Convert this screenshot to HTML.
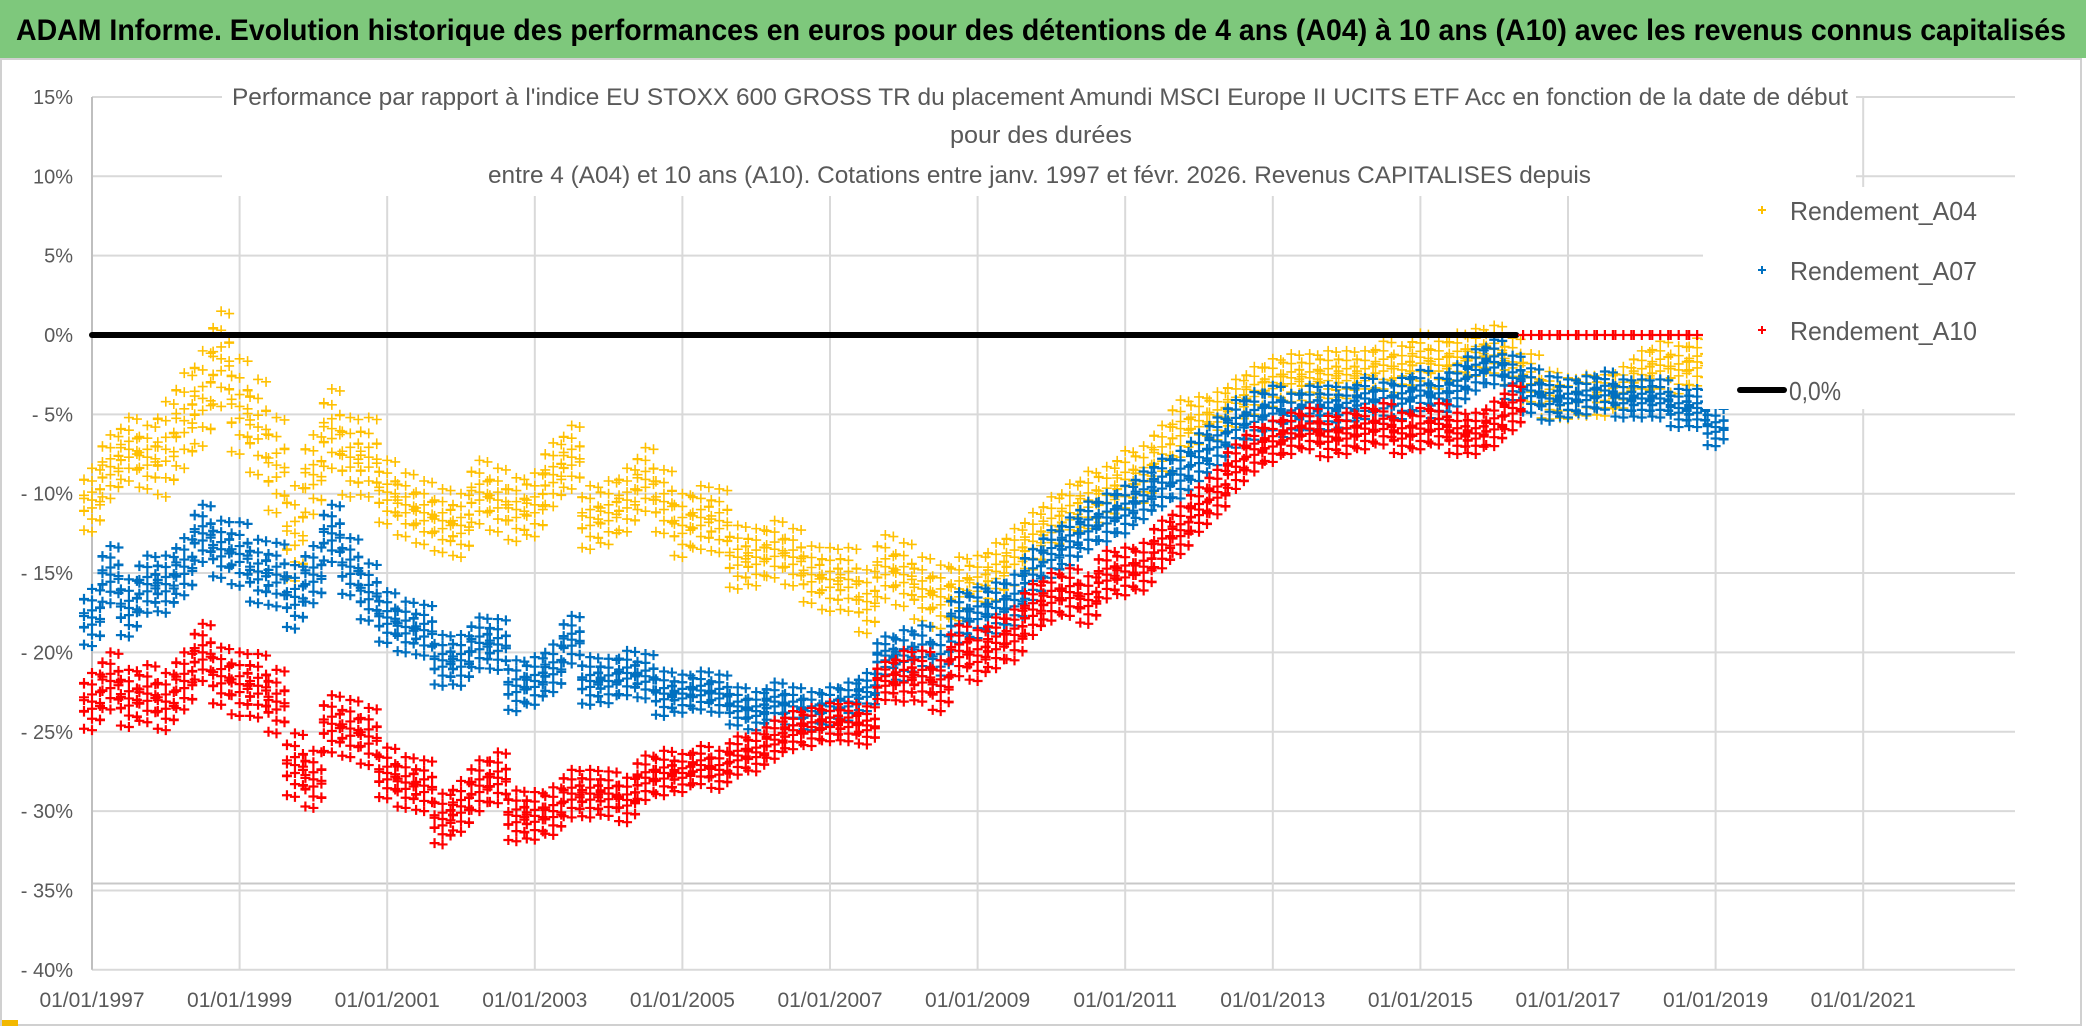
<!DOCTYPE html>
<html><head><meta charset="utf-8"><style>
html,body{margin:0;padding:0;background:#fff;}
svg{display:block;font-family:"Liberation Sans",sans-serif;}
</style></head><body>
<svg id="chart" width="2086" height="1031" viewBox="0 0 2086 1031" xmlns="http://www.w3.org/2000/svg">
<rect x="0" y="0" width="2086" height="1031" fill="#fff"/>
<rect x="0" y="0" width="2086" height="58" fill="#7ec87c"/>
<text x="16" y="40" font-size="30" font-weight="bold" fill="#000" textLength="2050" lengthAdjust="spacingAndGlyphs">ADAM Informe. Evolution historique des performances en euros pour des détentions de 4 ans (A04) à 10 ans (A10) avec les revenus connus capitalisés</text>
<rect x="1" y="59" width="2080" height="966" fill="none" stroke="#d0d0d0" stroke-width="2"/>
<rect x="2" y="1020" width="16" height="6" fill="#f2b800"/>
<g id="grid"></g>
<g id="series"></g>
<g id="overlay"></g>
</svg>
<script>
const years=["01/01/1997","01/01/1999","01/01/2001","01/01/2003","01/01/2005","01/01/2007","01/01/2009","01/01/2011","01/01/2013","01/01/2015","01/01/2017","01/01/2019","01/01/2021"];
const yTicks=[15,10,5,0,-5,-10,-15,-20,-25,-30,-35,-40];
const yTickLabels=["15%","10%","5%","0%","- 5%","- 10%","- 15%","- 20%","- 25%","- 30%","- 35%","- 40%"];
const seriesNames=["Rendement_A04","Rendement_A07","Rendement_A10"];
const startYear=1997;
const step=0.25;
const a04=[-10.4,-8.3,-7.2,-7.7, -7.2,-5.4,-4,-1.5, -4.5,-5.8,-8.2,-12.5, -8.8,-5.9,-7.7,-7.7, -9.9,-10.7,-11.2,-11.7, -12,-9.9,-10.4,-11, -10.7,-8.8,-7.7,-11.5, -11.2,-10.4,-9.1,-10.5, -12,-11.5,-11.7,-14, -14,-13.5,-14,-15.1, -15.4,-15.4,-16.8,-14.6, -15.1,-16,-16.5,-16, -15.7,-14.9,-14,-13, -12,-11.2,-10.4,-10.1, -9.1,-8.8,-7.5,-5.9, -5.4,-5.1,-4.3,-3.5, -3,-2.7,-2.7,-2.5, -2.5,-2.5,-1.9,-2.2, -1.4,-1.9,-1.4,-1.1, -0.9,-1.7,-2.7,-3.8, -4,-3.8,-3.8,-3.3, -2.5,-1.9,-2.2,-1.7];
const a07=[-17.8,-15.1,-17.2,-15.7, -15.7,-14.6,-12.5,-13.5, -13.8,-14.9,-15.1,-16.5, -15.1,-12.5,-14.6,-16.2, -17.8,-18.4,-18.6,-20.5, -20.5,-19.4,-19.5,-22.1, -21.8,-21,-19.2,-21.8, -21.8,-21.3,-21.5,-22.6, -22.6,-22.4,-22.6,-23.4, -23.7,-23.1,-23.4,-23.7, -23.4,-23.1,-22.5,-20.2, -20.2,-19.9,-20.5,-17.8, -17.5,-17.2,-16.7,-15.1, -13.8,-13,-12,-11.5, -11,-10.1,-9.3,-8.8, -7.7,-6.7,-5.6,-5.1, -4.6,-5.1,-4.6,-4.6, -4.6,-4,-4.3,-4, -3.5,-4,-3.2,-2.2, -1.7,-2.7,-3.5,-4, -4,-3.8,-3.5,-4, -4,-4,-4.6,-4.6, -5.8];
const a10=[-23.1,-21.8,-22.9,-22.6, -23.1,-21.8,-20,-21.5, -22,-22.1,-23.1,-27.1, -28,-24.5,-24.8,-25.3, -27.6,-28.2,-28.4,-30.5, -29.7,-28.4,-27.9,-30.3, -30.3,-30,-28.9,-28.9, -28.9,-29.3,-27.9,-27.6, -27.6,-27.1,-27.4,-26.5, -26.3,-25.5,-24.9,-24.7, -24.4,-24.4,-24.6,-21.8, -21.5,-21.5,-22.1,-19.9, -20.2,-19.4,-18.9,-17.3, -16.5,-16.2,-16.7,-15.1, -14.9,-14.6,-13.2,-12.3, -11,-9.9,-8.3,-7.2, -6.7,-6.2,-5.9,-6.4, -6.2,-5.9,-5.6,-6.2, -5.9,-5.6,-6.2,-6.2, -5.6,-4.6,0,0, 0,0,0,0, 0,0,0,0];
const spread04=[2,3,3,2.5,2,2,2,2,2,1.8,2,2,1.8,1.8,1.8,1.5,1.5,1.5,1.5,1.5,1.3,1.5];
const spread07=[1.8,1.8,2,1.8,1.6,1.6,1.5,1.4,1.2,1.2,1.2,1.6,1.6,1.5,1.5,1.5,1.4,1.3,1.3,1.4,1.2,1.2,1.2];
const spread10=[1.8,1.8,2,1.8,1.6,1.6,1.5,1.4,1.2,1.2,1.2,1.6,1.6,1.5,1.5,1.4,1.3,1.3,1.3,1.4,0,0];
const zeroLine=[1997,2016.3];
const NS="http://www.w3.org/2000/svg";
const X0=92,XR=2015,PX_PER_YEAR=73.8,Y0=335,PX_PER_PCT=15.87;
const xS=yr=>X0+(yr-1997)*PX_PER_YEAR;
const yS=v=>Y0-v*PX_PER_PCT;
function mk(tag,attrs,parent){const e=document.createElementNS(NS,tag);for(const k in attrs)e.setAttribute(k,attrs[k]);parent.appendChild(e);return e;}
const grid=document.getElementById('grid'),ser=document.getElementById('series'),ov=document.getElementById('overlay');
yTicks.forEach((v,i)=>{
  const l=mk('line',{x1:X0,x2:XR,y1:yS(v),y2:yS(v),stroke:'#d9d9d9','stroke-width':2},grid);
  
  
  const t=mk('text',{x:73,y:yS(v)+7,'text-anchor':'end','font-size':20,fill:'#595959'},grid);
  t.textContent=yTickLabels[i];
  
  
});
mk('line',{x1:X0,x2:XR,y1:yS(-35)-7,y2:yS(-35)-7,stroke:'#c8c8c8','stroke-width':2},grid);
years.forEach((s,i)=>{
  const x=xS(1997+2*i);
  const l=mk('line',{x1:x,x2:x,y1:97,y2:yS(-40),stroke:i===0?'#bfbfbf':'#d9d9d9','stroke-width':2},grid);
  
  
  const t=mk('text',{x:x,y:1007,'text-anchor':'middle','font-size':21,fill:'#595959'},grid);
  t.textContent=s;
  
  
});
const colors=["#FFC000","#0070C0","#FF0000"];
const dataSets=[a04,a07,a10];
const spreads=[spread04,spread07,spread10];
const ks=[-1,-0.6,-0.25,0,0.25,0.6,1];
const dxs=[-8,0,8];
const groups=[];
dataSets.forEach((arr,si)=>{
  const g=mk('g',{stroke:colors[si],'stroke-width':si===0?1.6:2.2,fill:'none'},ser);
  
  
  groups.push(g);
  let d='';
  arr.forEach((v,i)=>{
    const yr=startYear+i*step;
    let sp=spreads[si][Math.min(Math.floor(i*step),spreads[si].length-1)];
    if(v===0) sp=0;
    const x=xS(yr);
    dxs.forEach((dx,j)=>{
      ks.forEach((k,m)=>{
        const kk=(j===1)?k:k*0.8+((j===0)?0.15:-0.15)*(m%2?1:-1);
        const px=x+dx, py=yS(v+sp*kk);
        d+=`M${px-5},${py}h10M${px},${py-5}v10`;
      });
    });
  });
  const p=mk('path',{d:d},g);
  
  
});
const zl=document.createElementNS(NS,'line');
zl.setAttribute('x1',xS(zeroLine[0]));zl.setAttribute('x2',xS(zeroLine[1]));
zl.setAttribute('y1',yS(0));zl.setAttribute('y2',yS(0));
zl.setAttribute('stroke','#000');zl.setAttribute('stroke-width',6);zl.setAttribute('stroke-linecap','round');


ser.insertBefore(zl,groups[2]);
const tb=mk('rect',{x:222,y:62,width:1634,height:134,fill:'#fff'},ov);


const titles=[["Performance par rapport à l'indice EU STOXX 600 GROSS TR  du placement Amundi MSCI Europe II UCITS ETF Acc en fonction de la date de début",232,105,1616],["pour des durées",950,143,182],["entre 4 (A04) et 10 ans (A10). Cotations entre janv. 1997 et févr. 2026. Revenus CAPITALISES depuis",488,183,1103]];
titles.forEach(t=>{
  const e=mk('text',{x:t[1],y:t[2],'font-size':24,fill:'#595959',textLength:t[3],lengthAdjust:'spacingAndGlyphs'},ov);
  e.textContent=t[0];
  
  
});
const lb=mk('rect',{x:1703,y:187,width:314,height:222,fill:'#fff'},ov);


const legY=[210,270,330];
seriesNames.forEach((n,i)=>{
  const y=legY[i];
  const m=mk('path',{d:`M1758,${y}h8M1762,${y-4}v8`,stroke:colors[i],'stroke-width':2},ov);
  
  
  const t=mk('text',{x:1790,y:y+10,'font-size':26,fill:'#595959',textLength:187,lengthAdjust:'spacingAndGlyphs'},ov);
  t.textContent=n;
  
  
});
const zm=mk('line',{x1:1740,x2:1784,y1:390,y2:390,stroke:'#000','stroke-width':6,'stroke-linecap':'round'},ov);


const zt=mk('text',{x:1789,y:400,'font-size':26,fill:'#595959',textLength:52,lengthAdjust:'spacingAndGlyphs'},ov);
zt.textContent='0,0%';


</script>
</body></html>
